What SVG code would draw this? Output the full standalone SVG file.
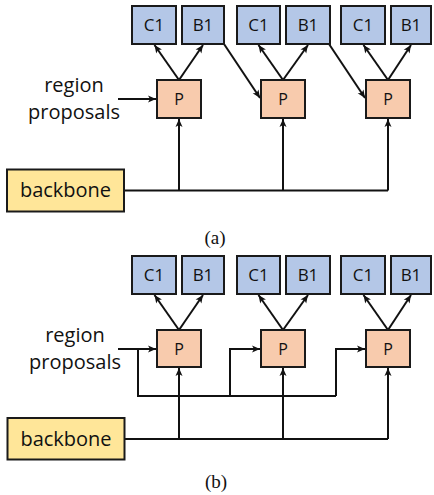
<svg xmlns="http://www.w3.org/2000/svg" width="434" height="495" viewBox="0 0 434 495">
<defs>
<marker id="ah" markerUnits="userSpaceOnUse" markerWidth="10" markerHeight="10" viewBox="0 0 10 10" refX="9" refY="5" orient="auto">
<path d="M1,1.5 L9,5 L1,8.5 L3,5 Z" fill="#111"/>
</marker>
</defs>
<style>
.box{stroke:#1a1a1a;stroke-width:2}
.c{fill:#B4C7E7}
.p{fill:#F8CBAD}
.bb{fill:#FFE699}
.t{font-family:"Open Sans",sans-serif;fill:#111;text-anchor:middle}
.cap{font-family:"Liberation Serif",serif;font-size:19px;fill:#111;text-anchor:middle}
.ln{fill:none;stroke:#111;stroke-width:2}
.ar{marker-end:url(#ah)}
</style>
<rect width="434" height="495" fill="#fff"/>

<g id="connectors">
<!-- (a) -->
<path class="ln ar" d="M179,80 L154.5,45"/>
<path class="ln ar" d="M179,80 L203,45"/>
<path class="ln ar" d="M283,80 L258.5,45"/>
<path class="ln ar" d="M283,80 L308,45"/>
<path class="ln ar" d="M388,80 L363.5,45"/>
<path class="ln ar" d="M388,80 L411,45"/>
<path class="ln ar" d="M224,44 L260,98"/>
<path class="ln ar" d="M329,44 L365,98"/>
<path class="ln ar" d="M118,99 L156,99"/>
<path class="ln" d="M124,190.5 L388,190.5"/>
<path class="ln ar" d="M179,190.5 L179,119"/>
<path class="ln ar" d="M283,190.5 L283,119"/>
<path class="ln ar" d="M388,190.5 L388,119"/>
<!-- (b) -->
<path class="ln ar" d="M179,330 L154.5,295"/>
<path class="ln ar" d="M179,330 L203,295"/>
<path class="ln ar" d="M283,330 L258.5,295"/>
<path class="ln ar" d="M283,330 L308,295"/>
<path class="ln ar" d="M388,330 L363.5,295"/>
<path class="ln ar" d="M388,330 L411,295"/>
<path class="ln ar" d="M118,349 L156,349"/>
<path class="ln" d="M138,349 L138,396 L336,396"/>
<path class="ln ar" d="M230,396 L230,349 L260,349"/>
<path class="ln ar" d="M336,396 L336,349 L365,349"/>
<path class="ln" d="M124,439 L388,439"/>
<path class="ln ar" d="M179,439 L179,368"/>
<path class="ln ar" d="M283,439 L283,368"/>
<path class="ln ar" d="M388,439 L388,368"/>
</g>

<!-- (a) nodes -->
<g id="a-c1-1"><rect class="box c" x="132" y="6" width="44" height="38"/><text class="t" x="154" y="31" font-size="17">C1</text></g>
<g id="a-b1-1"><rect class="box c" x="182" y="6" width="42" height="38"/><text class="t" x="203" y="31" font-size="17">B1</text></g>
<g id="a-c1-2"><rect class="box c" x="237" y="6" width="43" height="38"/><text class="t" x="258.5" y="31" font-size="17">C1</text></g>
<g id="a-b1-2"><rect class="box c" x="286" y="6" width="44" height="38"/><text class="t" x="308" y="31" font-size="17">B1</text></g>
<g id="a-c1-3"><rect class="box c" x="341" y="6" width="44" height="38"/><text class="t" x="363" y="31" font-size="17">C1</text></g>
<g id="a-b1-3"><rect class="box c" x="391" y="6" width="40" height="38"/><text class="t" x="411" y="31" font-size="17">B1</text></g>
<g id="a-p1"><rect class="box p" x="157" y="80" width="44" height="38"/><text class="t" x="179" y="105" font-size="16">P</text></g>
<g id="a-p2"><rect class="box p" x="261" y="80" width="44" height="38"/><text class="t" x="283" y="105" font-size="16">P</text></g>
<g id="a-p3"><rect class="box p" x="366" y="80" width="44" height="38"/><text class="t" x="388" y="105" font-size="16">P</text></g>
<g id="a-rp"><text class="t" x="74" y="92" font-size="20">region</text><text class="t" x="74" y="119" font-size="20">proposals</text></g>
<g id="a-backbone"><rect class="box bb" x="7" y="169.5" width="117" height="42"/><text class="t" x="65.5" y="197" font-size="20">backbone</text></g>
<text class="cap" x="215" y="244">(a)</text>

<!-- (b) nodes -->
<g id="b-c1-1"><rect class="box c" x="132" y="256" width="44" height="38"/><text class="t" x="154" y="281" font-size="17">C1</text></g>
<g id="b-b1-1"><rect class="box c" x="182" y="256" width="42" height="38"/><text class="t" x="203" y="281" font-size="17">B1</text></g>
<g id="b-c1-2"><rect class="box c" x="237" y="256" width="43" height="38"/><text class="t" x="258.5" y="281" font-size="17">C1</text></g>
<g id="b-b1-2"><rect class="box c" x="286" y="256" width="44" height="38"/><text class="t" x="308" y="281" font-size="17">B1</text></g>
<g id="b-c1-3"><rect class="box c" x="341" y="256" width="44" height="38"/><text class="t" x="363" y="281" font-size="17">C1</text></g>
<g id="b-b1-3"><rect class="box c" x="391" y="256" width="40" height="38"/><text class="t" x="411" y="281" font-size="17">B1</text></g>
<g id="b-p1"><rect class="box p" x="157" y="330" width="44" height="37"/><text class="t" x="179" y="354.5" font-size="16">P</text></g>
<g id="b-p2"><rect class="box p" x="261" y="330" width="44" height="37"/><text class="t" x="283" y="354.5" font-size="16">P</text></g>
<g id="b-p3"><rect class="box p" x="366" y="330" width="44" height="37"/><text class="t" x="388" y="354.5" font-size="16">P</text></g>
<g id="b-rp"><text class="t" x="75" y="342" font-size="20">region</text><text class="t" x="75" y="369" font-size="20">proposals</text></g>
<g id="b-backbone"><rect class="box bb" x="7.5" y="418" width="117" height="41.5"/><text class="t" x="66" y="446" font-size="20">backbone</text></g>
<text class="cap" x="216" y="488">(b)</text>
</svg>
